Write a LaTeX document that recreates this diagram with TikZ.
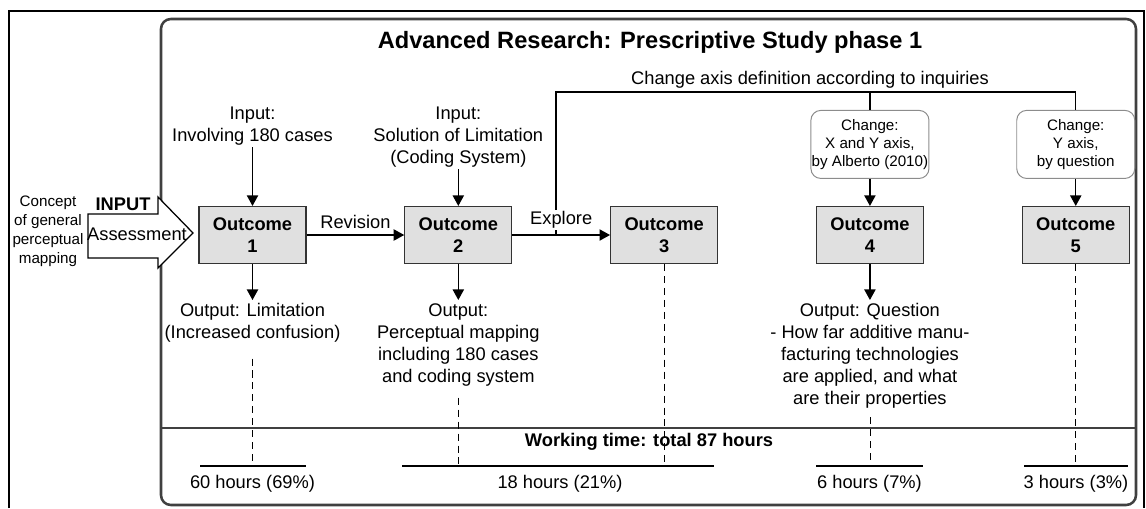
\documentclass[tikz,border=0pt]{standalone}
\usepackage{fontspec}
\setmainfont{Liberation Sans}
\usetikzlibrary{arrows.meta,positioning}

\begin{document}
\begin{tikzpicture}[x=0.025cm,y=-0.025cm,>={Triangle[length=7.5pt,width=8pt]},
	node distance=5.144cm,line width=0.9pt,
	outcome/.style={draw=black!80,line width=0.8pt,fill=black!12,align=center,
		font=\bfseries\fontsize{13}{15.6}\selectfont,
		minimum width=2.675cm,minimum height=1.425cm,inner sep=0pt},
	chg box/.style={draw=black!45,line width=0.7pt,rounded corners=7pt,align=center,
		font=\fontsize{10.8}{13}\selectfont,
		minimum width=2.95cm,minimum height=1.7cm,inner sep=0pt},
	note/.style={align=center,font=\fontsize{13}{15.6}\selectfont,inner sep=1pt},
	lbl/.style={font=\fontsize{13}{15.6}\selectfont,inner sep=1pt,above=3pt},
	frame/.style={draw=black!75,line width=1.8pt},
	guide/.style={dash pattern=on 5pt off 3.5pt,line width=0.6pt}]
	
	\useasboundingbox (0,0) rectangle (1146,508);
	\draw[line width=1pt] (9,508) -- (9,11) -- (1144,11) -- (1144,508);
	\draw[frame,rounded corners=7pt] (161,19) rectangle (1136,505);
	\draw[frame] (161,428) -- (1136,428);
	
	\coordinate (inrow) at (0,105);
	\coordinate (outrow) at (0,300);
	\coordinate (hrow) at (0,466);
	
	\node[font=\bfseries\fontsize{16.8}{20}\selectfont] (title) at (650,42)
		{Advanced Research: Prescriptive Study phase 1};
	
	% input arrow
	\draw[fill=white] (88,214) -- (158,214) -- (158,197) -- (193,233)
		-- (158,268) -- (158,258) -- (88,258) -- cycle;
	\node[note,font=\bfseries\fontsize{13}{15.6}\selectfont] (inp) at (123,204) {INPUT};
	\node[note] (asmt) at (137,234) {Assessment};
	\node[align=center,font=\fontsize{10.8}{13.5}\selectfont,inner sep=1pt] (concept) at (48,231)
		{Concept\\of general\\perceptual\\mapping};
	
	\node[outcome] (o1) at (252.5,235) {Outcome\\1};
	\node[outcome] (o2) [right of=o1] {Outcome\\2};
	\node[outcome] (o3) [right of=o2] {Outcome\\3};
	\node[outcome] (o4) [right of=o3] {Outcome\\4};
	\node[outcome] (o5) [right of=o4] {Outcome\\5};
	
	\node[chg box] (ch4) [above=0.675cm of o4] {Change:\\X and Y axis,\\by Alberto (2010)};
	\node[chg box] (ch5) [above=0.675cm of o5] {Change:\\Y axis,\\by question};
	
	\node[note,anchor=north] (in1) at (o1 |- inrow) {Input:\\Involving 180 cases};
	\node[note,anchor=north] (in2) at (o2 |- inrow) {Input:\\Solution of Limitation\\(Coding System)};
	
	\node[note,anchor=north,inner sep=2pt] (out1) at (o1 |- outrow)
		{Output: Limitation\\(Increased confusion)};
	\node[note,anchor=north,inner sep=2pt] (out2) at (o2 |- outrow)
		{Output:\\Perceptual mapping\\including 180 cases\\and coding system};
	\node[note,anchor=north,inner sep=2pt] (out4) at (o4 |- outrow)
		{Output: Question\\- How far additive manu-\\facturing technologies\\are applied, and what\\are their properties};
	
	% change axis line
	\coordinate (ex) at (556,235);
	\coordinate (tl) at (556,92);
	\node[note] (chlbl) at (810,80) {Change axis definition according to inquiries};
	\draw (ex) -- (tl) -| (ch5.north);
	\draw (ch4.north) -- (ch4 |- tl);
	
	\draw[->] (in1) -- (o1);
	\draw[->] (in2) -- (o2);
	\draw[->] (o1) -- node[lbl] {Revision} (o2);
	\draw[->] (o2) -- node[lbl,fill=white] {Explore} (o3);
	\draw[->] (ch4) -- (o4);
	\draw[->] (ch5) -- (o5);
	\draw[->] (o1) -- (out1);
	\draw[->] (o2) -- (out2);
	\draw[->] (o4) -- (out4);
	
	% working time
	\node[note,font=\bfseries\fontsize{13}{15.6}\selectfont] (wt) at (649,442)
		{Working time: total 87 hours};
	\coordinate (h1w) at (200,466); \coordinate (h1e) at (306,466);
	\coordinate (h2w) at (402,466); \coordinate (h2e) at (714,466);
	\coordinate (h3w) at (816,466); \coordinate (h3e) at (923,466);
	\coordinate (h4w) at (1024,466); \coordinate (h4e) at (1128,466);
	\draw (h1w) -- (h1e);
	\draw (h2w) -- (h2e);
	\draw (h3w) -- (h3e);
	\draw (h4w) -- (h4e);
	\node[note] (t1) at (252.5,484) {60 hours (69\%)};
	\node[note] (t2) at (560,484) {18 hours (21\%)};
	\node[note] (t3) at (869.5,484) {6 hours (7\%)};
	\node[note] (t4) at (1076,484) {3 hours (3\%)};
	
	\draw[guide,shorten <=9pt] (out1.south) -- (out1 |- hrow);
	\draw[guide,shorten <=6pt] (out2.south) -- (out2 |- hrow);
	\draw[guide] (o3.south) -- (o3 |- hrow);
	\draw[guide,shorten <=4pt] (out4.south) -- (out4 |- hrow);
	\draw[guide] (o5.south) -- (o5 |- hrow);
\end{tikzpicture}
\end{document}
